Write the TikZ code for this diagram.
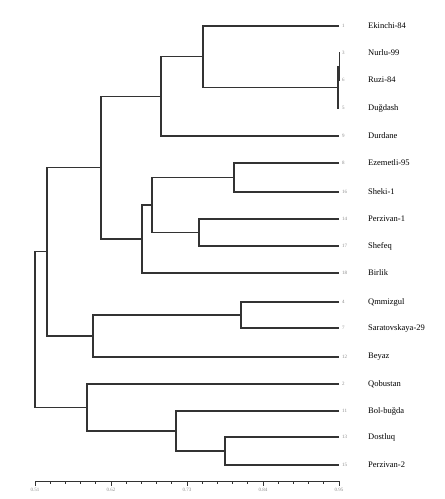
\documentclass[tikz,border=0pt]{standalone}
\usepackage{fontspec}
\setmainfont{Liberation Serif}
\usepackage{tikz}

\tikzset{
  branch/.style={draw=black!80,line width=1.1pt},
  leafname/.style={anchor=west,inner sep=0pt,font=\fontsize{8.5}{10}\selectfont},
  leafnum/.style={anchor=west,inner sep=0pt,text=black!45,font=\fontsize{5}{6}\selectfont},
  ticklabel/.style={inner sep=0pt,text=black!45,font=\fontsize{5}{6}\selectfont}
}

\begin{document}
\begin{tikzpicture}[x=1pt,y=-1pt]
  \useasboundingbox (0,0) rectangle (445,499);
  % leaves
  \foreach \y/\n/\name in {26/1/Ekinchi-84, 53/3/Nurlu-99, 80/6/Ruzi-84,
      108/5/Duğdash, 136/9/Durdane, 163/8/Ezemetli-95, 192/16/Sheki-1,
      219/14/Perzivan-1, 246/17/Shefeq, 273/18/Birlik, 302/4/Qmmizgul,
      328/7/Saratovskaya-29, 357/12/Beyaz, 384/2/Qobustan, 411/11/Bol-buğda,
      437/13/Dostluq, 465/15/Perzivan-2}{
    \coordinate (e\n) at (339,\y);
    \node[leafnum] (n\n) at (342,\y) {\n};
    \node[leafname] (t\n) at (368,\y) {\name};
  }
  % joins
  \coordinate (k36) at (339.5,66.5);
  \coordinate (k365) at (338,87.25);
  \coordinate (kA) at (203,56.6);
  \coordinate (kB) at (161,96.3);
  \coordinate (k816) at (234,177.5);
  \coordinate (k1417) at (199,232.5);
  \coordinate (kE) at (152,205);
  \coordinate (kD) at (142,239);
  \coordinate (kC) at (101,167.7);
  \coordinate (k47) at (241,315);
  \coordinate (kG) at (93,336);
  \coordinate (kF) at (47,251.8);
  \coordinate (k1315) at (225,451);
  \coordinate (kI) at (176,431);
  \coordinate (kH) at (87,407.5);
  \coordinate (root) at (35,329.6);
  \foreach \a/\j/\b in {e3/k36/e6, k36/k365/e5, e1/kA/k365, kA/kB/e9,
      e8/k816/e16, e14/k1417/e17, k816/kE/k1417, kE/kD/e18, kB/kC/kD,
      e4/k47/e7, k47/kG/e12, kC/kF/kG, e13/k1315/e15, e11/kI/k1315,
      e2/kH/kI, kF/root/kH}
    \draw[branch] (\a) -| (\j) |- (\b);
  % scale
  \coordinate (s0) at (35,481);
  \coordinate (s1) at (339,481);
  \draw[branch,line width=0.8pt] (s0) -- (s1);
  \foreach \i in {0,...,20}
    \draw[branch,line width=0.7pt] ([xshift=\i*15.2pt]s0) -- ++(0,3);
  \foreach \i/\v in {0/0.51,1/0.62,2/0.73,3/0.84,4/0.95}{
    \draw[branch,line width=0.7pt] ([xshift=\i*76pt]s0) -- ++(0,5);
    \node[ticklabel] (v\i) at ([xshift=\i*76pt,yshift=-9pt]s0) {\v};
  }
\end{tikzpicture}
\end{document}
